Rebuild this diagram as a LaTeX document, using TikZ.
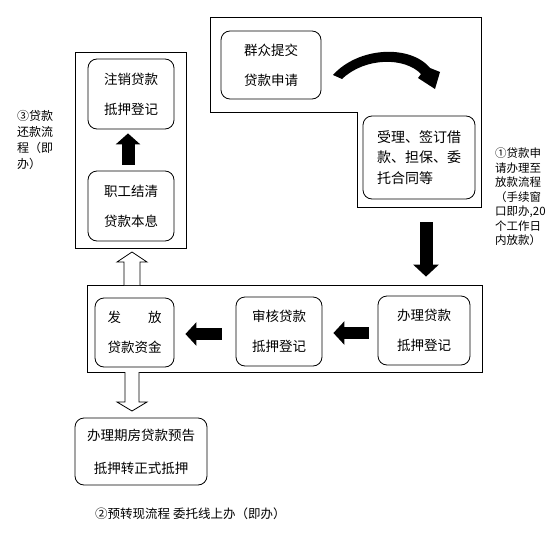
\documentclass[tikz,border=0pt]{standalone}
\usepackage{fontspec}
\setmainfont{Noto Sans CJK SC}
\usetikzlibrary{arrows.meta}
\newcommand{\circd}[1]{\makebox[1em][l]{#1}}
\begin{document}
\begin{tikzpicture}[x=1pt,y=-1pt,
  box/.style={draw, line width=0.8pt, rounded corners=9pt, align=center,
    font=\fontsize{13.5}{30}\selectfont, inner sep=0pt},
  frame/.style={draw, line width=0.8pt},
  blk/.style={line width=13pt, -{Triangle[width=24pt,length=11pt]}},
  hollow/.style={draw, line width=0.8pt, fill=white},
  note/.style={align=left, inner sep=0pt, anchor=north west},
  ]
\useasboundingbox (0,0) rectangle (548,554);
% frames
\draw[frame] (75,52) rectangle (186,248);
\draw[frame] (210,17) -- (481,17) -- (481,207) -- (357,207) -- (357,112) -- (210,112) -- cycle;
\draw[frame] (87,285) rectangle (482,372);
% nodes
\node[box, minimum width=86pt, minimum height=70pt] (zx) at (131,94) {注销贷款\\抵押登记};
\node[box, minimum width=86pt, minimum height=70pt] (zj) at (131,206) {职工结清\\贷款本息};
\node[box, minimum width=100pt, minimum height=68pt] (qz) at (271,65) {群众提交\\贷款申请};
\node[box, minimum width=112pt, minimum height=83pt, align=left,
  font=\fontsize{14}{20.5}\selectfont] (sl) at (419,157.5) {受理、签订借\\款、担保、委\\托合同等};
\node[box, minimum width=92pt, minimum height=69pt] (bl) at (424,330.5) {办理贷款\\抵押登记};
\node[box, minimum width=86pt, minimum height=69pt] (sh) at (279,331.5) {审核贷款\\抵押登记};
\node[box, minimum width=79pt, minimum height=69pt] (ff) at (134.5,332.5) {发\quad\quad 放\\贷款资金};
\node[box, minimum width=132pt, minimum height=67pt, font=\fontsize{13.5}{33}\selectfont] (yg) at (141,451.5) {办理期房贷款预告\\抵押转正式抵押};
% black arrows
\draw[blk] ([xshift=-3pt,yshift=6pt]zj.north) -- ([xshift=-3pt,yshift=-4pt]zx.south);
\draw[blk, -{Triangle[width=25pt,length=12pt]}] ([xshift=7pt,yshift=-23pt]sl.south) -- ([xshift=2pt,yshift=19pt]bl.north);
\draw[blk, line width=12pt, -{Triangle[width=23pt,length=11pt]}] ([xshift=-9pt,yshift=-2.5pt]bl.west) -- ([xshift=11pt,yshift=-1.5pt]sh.east);
\draw[blk, line width=12pt, -{Triangle[width=23pt,length=11pt]}] ([xshift=-14pt,yshift=-2.5pt]sh.west) -- ([xshift=11pt,yshift=-1.5pt]ff.east);
% curved arrow
\fill (333,75) .. controls (358,47) and (410,44) .. (430,68) -- (440,72) -- (435,89)
  -- (418,78) -- (421,74) .. controls (405,57) and (365,57) .. (342,79) -- cycle;
% hollow arrows
\draw[hollow] (124,285) -- (124,262) -- (117,262) -- (132,252) -- (147,262) -- (140,262) -- (140,285);
\draw[hollow] (125,372) -- (125,402) -- (117,402) -- (132,411) -- (147,402) -- (139,402) -- (139,372);
% labels
\node[note, font=\fontsize{12}{16}\selectfont] (l3) at (17,110) {\circd{③}贷款\\还款流\\程（即\\办）};
\node[note, font=\fontsize{11.5}{14.5}\selectfont] (l1) at (495,148) {\circd{①}贷款申\\请办理至\\放款流程\\（手续窗\\口即办,20\\个工作日\\内放款）};
\node[anchor=west, inner sep=0pt, font=\fontsize{12.5}{14}\selectfont] (l2) at (95,514) {\circd{②}预转现流程 委托线上办（即办）};
\end{tikzpicture}
\end{document}
